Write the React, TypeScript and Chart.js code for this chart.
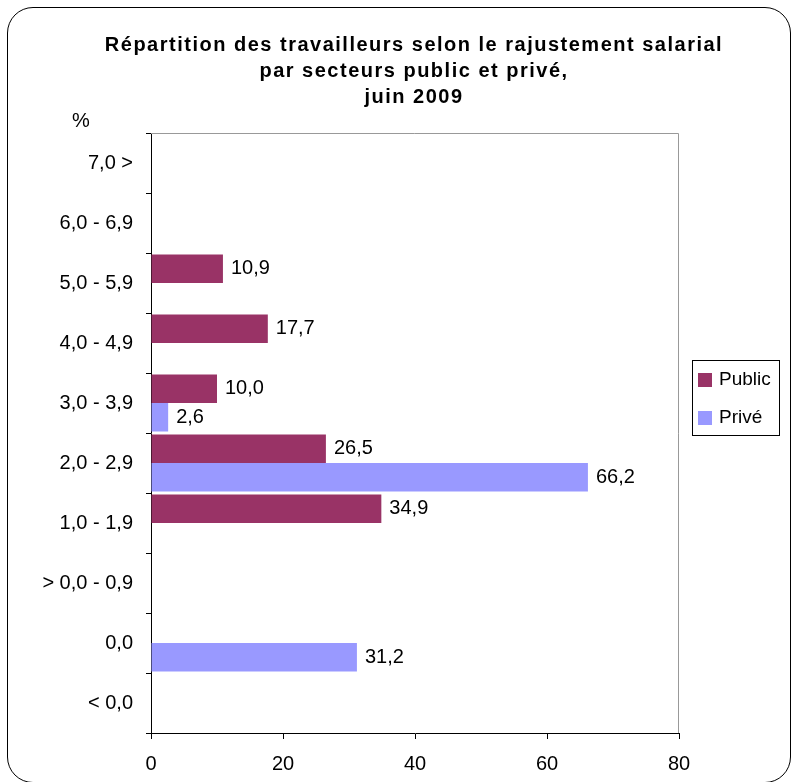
import React, { useEffect, useRef } from "react";
import { Chart, registerables } from "chart.js";

Chart.register(...registerables);

const titleLines = [
  "Répartition des travailleurs selon le rajustement salarial",
  "par secteurs public et privé,",
  "juin 2009",
];
const unitLabel = "%";
const categories = [
  "7,0 >",
  "6,0 - 6,9",
  "5,0 - 5,9",
  "4,0 - 4,9",
  "3,0 - 3,9",
  "2,0 - 2,9",
  "1,0 - 1,9",
  "> 0,0 - 0,9",
  "0,0",
  "< 0,0",
];
const seriesNames = ["Public", "Privé"];
const publicValues = [null, null, 10.9, 17.7, 10.0, 26.5, 34.9, null, null, null];
const priveValues = [null, null, null, null, 2.6, 66.2, null, null, 31.2, null];
const colors = ["#993366", "#9999FF"];
const xMin = 0;
const xMax = 80;
const xStep = 20;

const FONT = "'Liberation Sans', Arial, sans-serif";

const decorPlugin = {
  id: "decor",
  afterDraw(chart: any) {
    const ctx = chart.ctx;
    const a = chart.chartArea;
    ctx.save();
    // grey top/right frame of plot area
    ctx.strokeStyle = "#999999";
    ctx.lineWidth = 1;
    ctx.beginPath();
    ctx.moveTo(a.left, a.top + 0.5);
    ctx.lineTo(a.right - 0.5, a.top + 0.5);
    ctx.lineTo(a.right - 0.5, a.bottom);
    ctx.stroke();

    // title
    ctx.fillStyle = "#000";
    ctx.font = `bold 20px ${FONT}`;
    ctx.textAlign = "center";
    ctx.textBaseline = "alphabetic";
    try { (ctx as any).letterSpacing = "1.5px"; } catch (e) {}
    const baselines = [51, 77, 103];
    titleLines.forEach((t, i) => ctx.fillText(t, 414, baselines[i]));
    try { (ctx as any).letterSpacing = "0px"; } catch (e) {}

    // unit label
    ctx.font = `20px ${FONT}`;
    ctx.textAlign = "left";
    ctx.fillText(unitLabel, 72, 127);

    // data labels
    ctx.font = `20px ${FONT}`;
    ctx.textBaseline = "middle";
    chart.data.datasets.forEach((ds: any, di: number) => {
      const meta = chart.getDatasetMeta(di);
      meta.data.forEach((bar: any, i: number) => {
        const v = ds.data[i];
        if (v === null || v === undefined) return;
        ctx.fillText(v.toFixed(1).replace(".", ","), bar.x + 8, bar.y);
      });
    });

    // legend
    const lx = 692, ly = 360, lw = 87, lh = 75;
    ctx.strokeStyle = "#000";
    ctx.lineWidth = 1;
    ctx.strokeRect(lx + 0.5, ly + 0.5, lw, lh);
    ctx.font = `19px ${FONT}`;
    chart.data.datasets.forEach((ds: any, di: number) => {
      const cy = 380 + di * 38;
      ctx.fillStyle = ds.backgroundColor;
      ctx.fillRect(698, cy - 7, 14, 14);
      ctx.fillStyle = "#000";
      ctx.fillText(ds.label, 719, cy);
    });
    ctx.restore();
  },
};

export default function App() {
  const ref = useRef<HTMLCanvasElement>(null);
  useEffect(() => {
    if (!ref.current) return;
    const chart = new Chart(ref.current, {
      type: "bar",
      data: {
        labels: categories,
        datasets: [
          { label: seriesNames[0], data: publicValues as any, backgroundColor: colors[0], categoryPercentage: 0.95, barPercentage: 1 },
          { label: seriesNames[1], data: priveValues as any, backgroundColor: colors[1], categoryPercentage: 0.95, barPercentage: 1 },
        ],
      },
      options: {
        indexAxis: "y",
        animation: false,
        responsive: true,
        maintainAspectRatio: false,
        layout: { padding: { left: 0, top: 133, right: 114, bottom: 0 } },
        plugins: {
          legend: { display: false },
          title: { display: false },
          tooltip: { enabled: false },
        },
        scales: {
          x: {
            min: xMin,
            max: xMax,
            ticks: {
              stepSize: xStep,
              color: "#000",
              font: { family: FONT, size: 20 },
              padding: 13,
              maxRotation: 0,
            },
            grid: { drawOnChartArea: false, drawTicks: true, tickLength: 6, color: "#000" },
            border: { color: "#000", width: 1 },
            afterFit: (s: any) => { s.height = 49; },
          },
          y: {
            ticks: {
              color: "#000",
              font: { family: FONT, size: 20 },
              padding: 13,
            },
            grid: { drawOnChartArea: false, drawTicks: true, tickLength: 5, color: "#000", offset: true },
            border: { color: "#000", width: 1 },
            afterFit: (s: any) => { s.width = 151; },
          },
        },
      },
      plugins: [decorPlugin],
    });
    return () => chart.destroy();
  }, []);
  return (
    <div style={{ position: "absolute", left: 0, top: 0, width: 793, height: 782, background: "#fff", overflow: "hidden" }}>
      <canvas ref={ref} style={{ display: "block" }} />
      <div
        style={{
          position: "absolute",
          left: 7,
          top: 7,
          width: 784,
          height: 776,
          border: "1.5px solid #000",
          borderRadius: 26,
          boxSizing: "border-box",
          pointerEvents: "none",
        }}
      />
    </div>
  );
}
